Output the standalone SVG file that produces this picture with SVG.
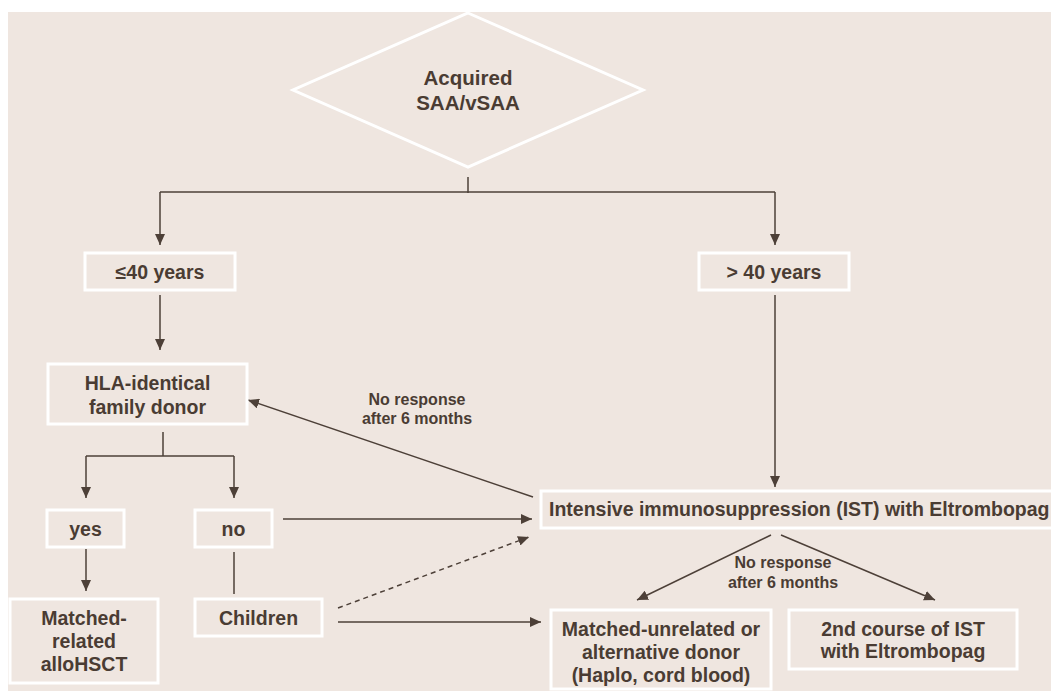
<svg xmlns="http://www.w3.org/2000/svg" width="1051" height="691" viewBox="0 0 1051 691">
<defs>
<marker id="ah" markerUnits="userSpaceOnUse" markerWidth="11" markerHeight="10" refX="11" refY="5" orient="auto">
<path d="M0,0 L11,5 L0,10 z" fill="#4d4038"/>
</marker>
<style>
.box{fill:#efe6e0;stroke:#ffffff;stroke-width:3}
.t{font-family:"Liberation Sans",Arial,sans-serif;font-weight:bold;font-size:19.5px;fill:#4a3c33;text-anchor:middle}
.big{font-size:20.5px}
.lbl{font-size:16px}
.c{stroke:#4d4038;stroke-width:1.5;fill:none}
.a{marker-end:url(#ah)}
.d{stroke-dasharray:5,4}
</style>
</defs>
<rect x="0" y="0" width="1051" height="691" fill="#ffffff"/>
<rect x="8" y="12" width="1043" height="679" fill="#efe6e0"/>

<g id="connectors">
<line class="c" x1="468" y1="177" x2="468" y2="193"/>
<line class="c" x1="160" y1="192" x2="775" y2="192"/>
<line class="c a" x1="160" y1="192" x2="160" y2="245"/>
<line class="c a" x1="775" y1="192" x2="775" y2="245"/>
<line class="c a" x1="160" y1="295" x2="160" y2="350"/>
<line class="c a" x1="775" y1="295" x2="775" y2="487"/>
<line class="c a" x1="533" y1="497" x2="248" y2="400"/>
<line class="c" x1="163" y1="432" x2="163" y2="456"/>
<line class="c" x1="86" y1="456" x2="234" y2="456"/>
<line class="c a" x1="86" y1="456" x2="86" y2="498"/>
<line class="c a" x1="234" y1="456" x2="234" y2="498"/>
<line class="c a" x1="86" y1="549" x2="86" y2="591"/>
<line class="c" x1="234" y1="552" x2="234" y2="594"/>
<line class="c a" x1="283" y1="519" x2="532" y2="519"/>
<line class="c a d" x1="338" y1="608" x2="529" y2="537"/>
<line class="c a" x1="338" y1="622" x2="541" y2="622"/>
<line class="c a" x1="771" y1="535" x2="637" y2="600"/>
<line class="c a" x1="781" y1="535" x2="935" y2="600"/>
<text class="t lbl" x="417" y="405">No response</text>
<text class="t lbl" x="417" y="424">after 6 months</text>
<text class="t lbl" x="783" y="568">No response</text>
<text class="t lbl" x="783" y="588">after 6 months</text>
</g>

<g id="n-acquired">
<polygon points="468,13 643,90 468,167 293,90" fill="none" stroke="#ffffff" stroke-width="3"/>
<text class="t big" x="468" y="85">Acquired</text>
<text class="t big" x="468" y="110">SAA/vSAA</text>
</g>

<g id="n-le40">
<rect class="box" x="85" y="253" width="150" height="37"/>
<text class="t" x="160" y="279">≤40 years</text>
</g>

<g id="n-gt40">
<rect class="box" x="699" y="253" width="150" height="37"/>
<text class="t" x="774" y="279">&gt; 40 years</text>
</g>

<g id="n-hla">
<rect class="box" x="48" y="364" width="199" height="60"/>
<text class="t" x="147.5" y="390">HLA-identical</text>
<text class="t" x="147.5" y="414">family donor</text>
</g>

<g id="n-yes">
<rect class="box" x="47" y="510" width="77" height="37"/>
<text class="t" x="85.5" y="536">yes</text>
</g>

<g id="n-no">
<rect class="box" x="195" y="510" width="77" height="37"/>
<text class="t" x="233.5" y="536">no</text>
</g>

<g id="n-matched-related">
<rect class="box" x="10" y="599" width="148" height="84"/>
<text class="t" x="84" y="625">Matched-</text>
<text class="t" x="84" y="648">related</text>
<text class="t" x="84" y="671">alloHSCT</text>
</g>

<g id="n-children">
<rect class="box" x="195" y="599" width="127" height="37"/>
<text class="t" x="258.5" y="625">Children</text>
</g>

<g id="n-ist">
<rect class="box" x="541" y="491" width="520" height="37"/>
<text class="t" x="549" y="516" style="text-anchor:start">Intensive immunosuppression (IST) with Eltrombopag</text>
</g>

<g id="n-matched-unrelated">
<rect class="box" x="551" y="610" width="220" height="79"/>
<text class="t" x="661" y="636">Matched-unrelated or</text>
<text class="t" x="661" y="659">alternative donor</text>
<text class="t" x="661" y="682">(Haplo, cord blood)</text>
</g>

<g id="n-second">
<rect class="box" x="789" y="610" width="228" height="59"/>
<text class="t" x="903" y="636">2nd course of IST</text>
<text class="t" x="903" y="658">with Eltrombopag</text>
</g>
</svg>
